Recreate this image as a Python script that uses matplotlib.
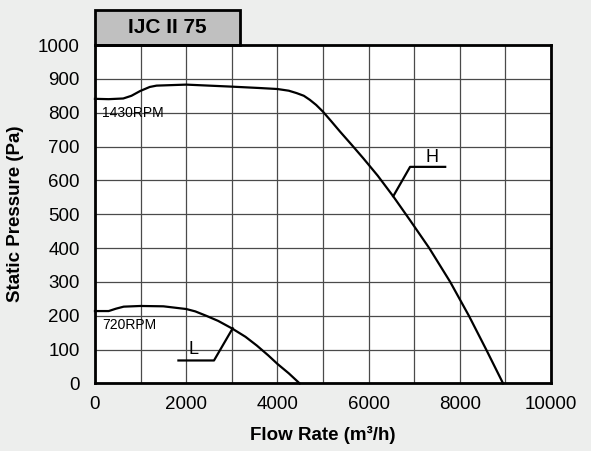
import matplotlib.pyplot as plt
from matplotlib.patches import Rectangle

plt.rcParams['font.family'] = ['Liberation Sans', 'DejaVu Sans']

# courbe haute vitesse (1430 RPM)
h_flow = [0, 300, 620, 800, 990, 1200, 1350, 2000, 3000, 3600, 4000, 4250,
          4420, 4580, 4712, 4850, 5000, 5180, 5375, 5630, 5886, 6200, 6540,
          6900, 7330, 7790, 8200, 8580, 8950]
h_pressure = [841, 840, 842, 850, 864, 876, 880, 883, 877, 873, 870, 865,
              858, 850, 838, 823, 803, 775, 744, 705, 665, 614, 553,
              484, 400, 300, 200, 100, 0]

# courbe basse vitesse (720 RPM)
l_flow = [0, 300, 460, 630, 1000, 1500, 2000, 2200, 2440, 2700, 3000, 3300,
          3550, 3800, 4000, 4250, 4490]
l_pressure = [214, 214, 221, 227, 229, 228, 220, 213, 200, 185, 163, 138,
              112, 83, 58, 30, 0]

# repères H / L
h_leader_x = [6540, 6910, 7680]
h_leader_y = [553, 640, 640]
l_leader_x = [3020, 2610, 1830]
l_leader_y = [163, 68, 68]

x_ticks = [0, 2000, 4000, 6000, 8000, 10000]
y_ticks = list(range(0, 1001, 100))

bg = '#edeeed'
fig = plt.figure(figsize=(5.91, 4.51), dpi=100, facecolor=bg)
ax = fig.add_axes([0.1607, 0.1497, 0.7716, 0.7505])
ax.set_facecolor('white')

ax.set_xlim(0, 10000)
ax.set_ylim(0, 1000)
ax.set_xticks(x_ticks)
ax.set_xticks(range(0, 10001, 1000), minor=True)
ax.set_yticks(y_ticks)
ax.grid(True, which='both', color='#4a4a4a', linewidth=0.9)
ax.set_axisbelow(True)
ax.tick_params(which='both', length=0, labelsize=13.5)
ax.tick_params(axis='y', pad=11)
ax.tick_params(axis='x', pad=9)

for s in ax.spines.values():
    s.set_linewidth(2)
    s.set_color('black')

ax.plot(h_flow, h_pressure, color='black', linewidth=1.6, clip_on=False,
        solid_joinstyle='round')
ax.plot(l_flow, l_pressure, color='black', linewidth=1.6, clip_on=False,
        solid_joinstyle='round')
ax.plot(h_leader_x, h_leader_y, color='black', linewidth=1.6)
ax.plot(l_leader_x, l_leader_y, color='black', linewidth=1.6)

ax.text(7380, 668, 'H', fontsize=13, ha='center', va='center')
ax.text(2150, 100, 'L', fontsize=13, ha='center', va='center')
ax.text(160, 800, '1430RPM', fontsize=10, ha='left', va='center')
ax.text(150, 172, '720RPM', fontsize=10, ha='left', va='center')

ax.set_xlabel('Flow Rate (m³/h)', fontsize=13.5, fontweight='bold', labelpad=9)
ax.set_ylabel('Static Pressure (Pa)', fontsize=13.5, fontweight='bold', labelpad=10)

# encadré du titre
ax.add_patch(Rectangle((0, 1.0), 0.318, 0.103, transform=ax.transAxes,
                       facecolor='#c0c0c0', edgecolor='black', linewidth=2,
                       clip_on=False))
ax.text(0.159, 1.052, 'IJC II 75', transform=ax.transAxes, fontsize=15,
        fontweight='bold', ha='center', va='center')

fig.savefig('out.png', dpi=100, facecolor=bg)
